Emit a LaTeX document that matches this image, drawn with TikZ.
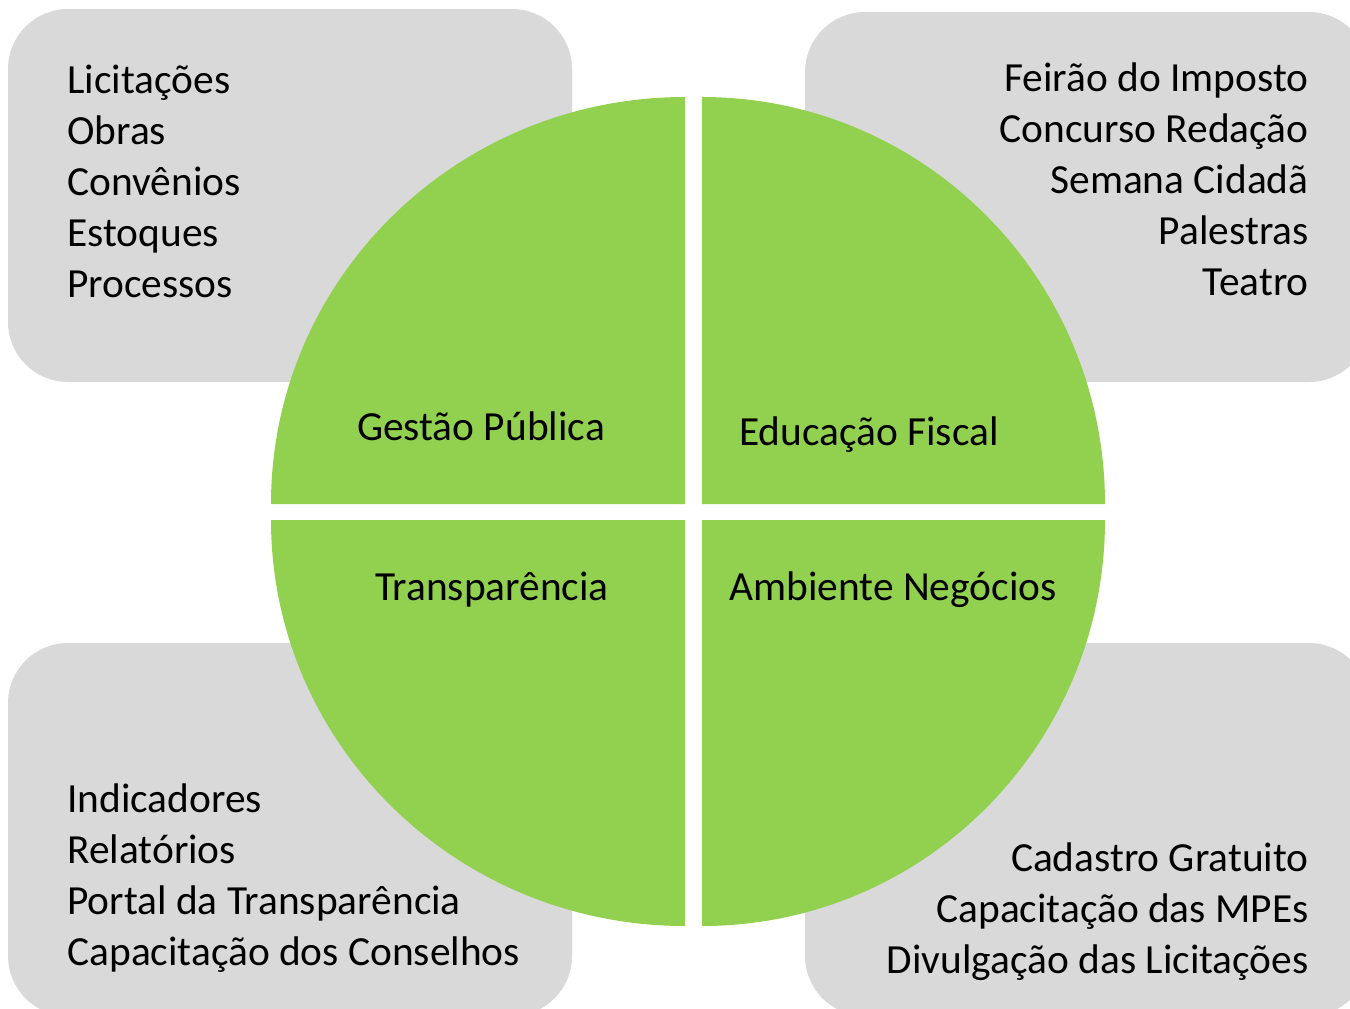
\documentclass[tikz,border=0pt]{standalone}
\usepackage{fontspec}
\setmainfont{Carlito}
\usepackage{tikz}
\usetikzlibrary{positioning}

\definecolor{quadgreen}{HTML}{92D050}
\definecolor{boxgray}{HTML}{D9D9D9}

\begin{document}
\begin{tikzpicture}[x=0.5pt,y=-0.5pt,
  areabox/.style={fill=boxgray,rounded corners=30pt,minimum width=282pt,minimum height=186.5pt,inner sep=0pt},
  quad/.style={fill=quadgreen},
  itemlist/.style={font=\fontsize{20.7}{25.5}\selectfont,inner sep=0pt},
  areatitle/.style={font=\fontsize{20.7}{25.5}\selectfont,inner sep=0pt,anchor=base}]
  \useasboundingbox (0,0) rectangle (1350,1008);
  % gray boxes behind the circle
  \node[areabox] (gestaobox) at (290,195.5) {};
  \node[areabox,minimum height=185pt] (educbox) at (1087,197) {};
  \node[areabox] (transbox) at (290,829.5) {};
  \node[areabox] (ambbox) at (1087,829.5) {};
  % the four quarters
  \fill[quad] (685,504) -- (685,97) arc[start angle=270,end angle=180,x radius=414,y radius=407] -- cycle;
  \fill[quad] (702,504) -- (702,97) arc[start angle=270,end angle=360,x radius=403,y radius=407] -- cycle;
  \fill[quad] (685,520) -- (685,926) arc[start angle=90,end angle=180,x radius=414,y radius=406] -- cycle;
  \fill[quad] (702,520) -- (702,926) arc[start angle=90,end angle=0,x radius=403,y radius=406] -- cycle;
  % titles
  \node[areatitle] (gestao) at (481,440) {Gestão Pública};
  \node[areatitle] (educ) at (869,445) {Educação Fiscal};
  \node[areatitle] (trans) at (492,600) {Transparência};
  \node[areatitle] (amb) at (893,600) {Ambiente Negócios};
  % lists (base = last line)
  \node[itemlist,align=left,anchor=base west] (gestaolist) at (67,297)
    {Licitações\\Obras\\Convênios\\Estoques\\Processos};
  \node[itemlist,align=right,anchor=base east] (educlist) at (1309,295)
    {Feirão do Imposto\\Concurso Redação\\Semana Cidadã\\Palestras\\Teatro};
  \node[itemlist,align=left,anchor=base west] (translist) at (67,965)
    {Indicadores\\Relatórios\\Portal da Transparência\\Capacitação dos Conselhos};
  \node[itemlist,align=right,anchor=base east] (amblist) at (1309,973)
    {Cadastro Gratuito\\Capacitação das MPEs\\Divulgação das Licitações};
\end{tikzpicture}
\end{document}
